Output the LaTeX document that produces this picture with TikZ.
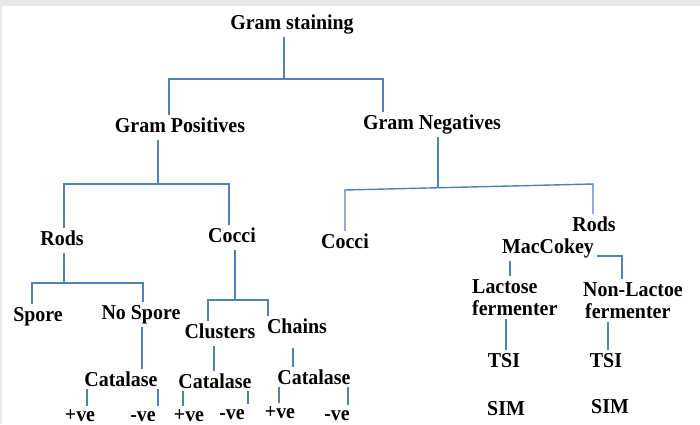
\documentclass[tikz,border=0pt]{standalone}
\usepackage{fontspec}
\setmainfont{Liberation Serif}[FakeStretch=0.94]
\definecolor{linkblue}{RGB}{79,129,189}
\definecolor{bandgray}{RGB}{230,231,233}
\begin{document}
\begin{tikzpicture}[x=1pt,y=-1pt,
  lbl/.style={anchor=base,inner sep=3pt,text height=14pt,text depth=5pt,
    font=\bfseries\fontsize{21.2}{23}\selectfont},
  catl/.style={lbl,text depth=0pt},
  val/.style={lbl,text height=12pt},
  two/.style={anchor=north west,inner sep=3pt,align=left,
    font=\bfseries\fontsize{21.2}{22.5}\selectfont},
  conn/.style={draw=linkblue,line width=1.4pt}]
\useasboundingbox (0,0) rectangle (700,424);
\fill[bandgray] (0,0) rectangle (700,424);
\fill[white] (2,6) rectangle (700,424);
% nodes
\node[lbl] (gs) at (292,29) {Gram staining};
\node[lbl] (gp) at (180,132) {Gram Positives};
\node[lbl] (gn) at (432,129) {Gram Negatives};
\node[lbl] (rodsL) at (62,245) {Rods};
\node[lbl] (cocciL) at (232,242) {Cocci};
\node[lbl] (cocciR) at (345,248) {Cocci};
\node[lbl] (rodsR) at (594,231) {Rods};
\node[lbl] (mac) at (548,253) {MacCokey};
\node[lbl] (spore) at (38,321) {Spore};
\node[lbl] (nospore) at (141,319) {No Spore};
\node[lbl] (clusters) at (220,338) {Clusters};
\node[lbl] (chains) at (297,333) {Chains};
\node[catl] (cat1) at (121,386) {Catalase};
\node[catl] (cat2) at (215,388) {Catalase};
\node[catl] (cat3) at (314,384) {Catalase};
\node[val] (pos1) at (80,421) {+ve};
\node[val] (neg1) at (143,421) {-ve};
\node[val] (pos2) at (189,421) {+ve};
\node[val] (neg2) at (232,419) {-ve};
\node[val] (pos3) at (280,418) {+ve};
\node[val] (neg3) at (337,420) {-ve};
\node[two] (lac) at (469,276) {Lactose\\fermenter};
\node[two] (nonlac) at (580,279) {Non-Lactoe\\\hspace*{2pt}fermenter};
\node[lbl] (tsi1) at (504,367) {TSI};
\node[lbl] (tsi2) at (606,367) {TSI};
\node[lbl] (sim1) at (506,415) {SIM};
\node[lbl] (sim2) at (610,413) {SIM};
% connectors
\draw[conn] (gs.south -| 284,0) -- (284,79);
\draw[conn] (gp.north -| 169,0) -- (169,79) -- (383,79) -- (gn.north -| 383,0);
\draw[conn] (gp.south -| 158,0) -- (158,184);
\draw[conn] (rodsL.north -| 64,0) -- (64,184) -- (229,184) -- (cocciL.north -| 229,0);
\draw[conn] (gn.south -| 438,0) -- (438,187.7);
\draw[conn] (cocciR.north -| 345,0) -- (345,190) -- (593,184) -- (rodsR.north -| 593,0);
\draw[conn] (rodsL.south -| 64,0) -- (64,283);
\draw[conn] (spore.north -| 32,0) -- (32,283) -- (143,283) -- (nospore.north -| 143,0);
\draw[conn] (nospore.south -| 142,0) -- (cat1.north -| 142,0);
\draw[conn] (cat1.south -| 87,0) -- (pos1.north -| 87,0);
\draw[conn] (cat1.south -| 158,0) -- (neg1.north -| 158,0);
\draw[conn] (cocciL.south -| 235,0) -- (235,300);
\draw[conn] (clusters.north -| 208,0) -- (208,300) -- (268,300) -- (chains.north -| 268,0);
\draw[conn] (clusters.south -| 214,0) -- (cat2.north -| 214,0);
\draw[conn] (cat2.south -| 183,0) -- (pos2.north -| 183,0);
\draw[conn] (cat2.south -| 248,0) -- (neg2.north -| 248,0);
\draw[conn] ([yshift=-7pt]chains.south -| 293,0) -- (cat3.north -| 293,0);
\draw[conn] (cat3.south -| 279,0) -- (pos3.north -| 279,0);
\draw[conn] (cat3.south -| 348,0) -- (neg3.north -| 348,0);
\draw[conn] (mac.south -| 510,0) -- (lac.north -| 510,0);
\draw[conn] (mac.east |- 0,256) -| (nonlac.north -| 622,0);
\draw[conn] (lac.south -| 506,0) -- (tsi1.north -| 506,0);
\draw[conn] (nonlac.south -| 608,0) -- (tsi2.north -| 608,0);
\end{tikzpicture}
\end{document}
